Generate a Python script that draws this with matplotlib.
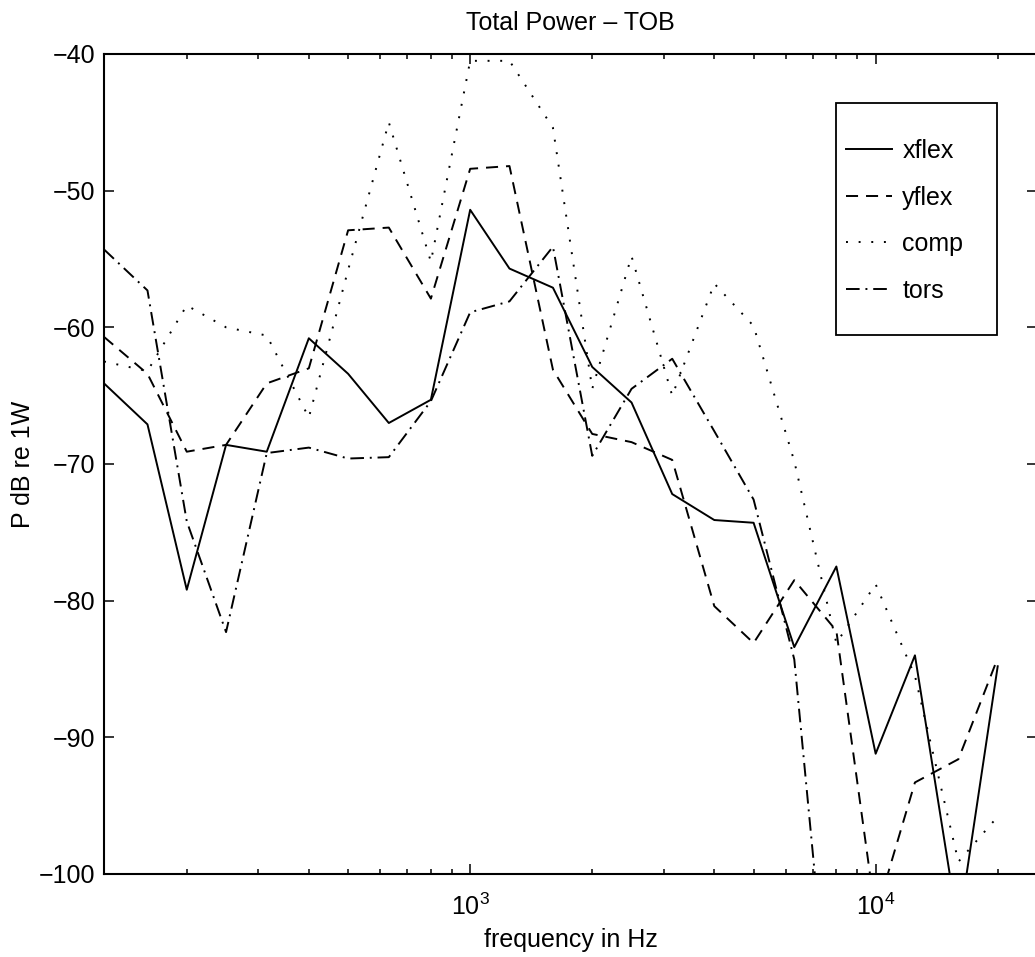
import numpy as np
import matplotlib
matplotlib.use("Agg")
import matplotlib.pyplot as plt
from matplotlib.patches import Rectangle
from matplotlib.ticker import LogLocator, FixedLocator

plt.rcParams["font.family"] = ["Liberation Sans", "DejaVu Sans"]
plt.rcParams["mathtext.default"] = "regular"

# third-octave band centre frequencies (Hz)
freq = [125, 160, 200, 250, 315, 400, 500, 630, 800, 1000, 1250, 1600,
        2000, 2500, 3150, 4000, 5000, 6300, 8000, 10000, 12500, 16000, 20000]

# band power, dB re 1 W
xflex = [-64.1, -67.1, -79.2, -68.6, -69.1, -60.8, -63.4, -67.0, -65.3, -51.4,
         -55.7, -57.1, -62.9, -65.5, -72.2, -74.1, -74.3, -83.4, -77.5, -91.2,
         -84.0, -104.0, -84.8]
yflex = [-60.7, -63.4, -69.1, -68.6, -64.1, -63.0, -52.9, -52.7, -57.9, -48.4,
         -48.2, -63.1, -67.8, -68.4, -69.7, -80.4, -83.1, -78.5, -82.2, -103.0,
         -93.3, -91.6, -84.2]
comp = [-62.5, -63.2, -58.4, -60.0, -60.6, -66.6, -55.8, -45.0, -55.2, -40.5,
        -40.5, -45.4, -64.5, -54.8, -65.0, -56.8, -59.9, -69.8, -83.1, -78.8,
        -85.5, -99.1, -95.8]
tors = [-54.3, -57.3, -74.2, -82.3, -69.2, -68.8, -69.6, -69.5, -65.4, -58.9,
        -58.1, -54.1, -69.4, -64.5, -62.3, -67.6, -72.6, -84.3, -116.5, np.nan,
        np.nan, np.nan, np.nan]

W, H = 1035, 957
fig = plt.figure(figsize=(W / 100, H / 100), dpi=100)
# axes box in pixels: left 104, right 1037, top 54, bottom 874
ax = fig.add_axes([104 / W, (H - 874) / H, (1037 - 104) / W, (874 - 54) / H])

lw = 1.4
ax.plot(freq, xflex, color="black", lw=lw, linestyle="-", label="xflex")
ax.plot(freq, yflex, color="black", lw=lw, linestyle=(0, (6.2, 4.1)), label="yflex")
ax.plot(freq, comp, color="black", lw=lw, linestyle=(0, (1, 5.5)), label="comp")
ax.plot(freq, tors, color="black", lw=lw, linestyle=(0, (7, 3, 1, 3)), label="tors")

ax.set_xscale("log")
ax.set_xlim(125, 25000)
ax.set_ylim(-100, -40)
ax.yaxis.set_major_locator(FixedLocator([-100, -90, -80, -70, -60, -50, -40]))
ax.xaxis.set_major_locator(LogLocator(base=10))
ax.xaxis.set_minor_locator(LogLocator(base=10, subs=np.arange(2, 10)))

fs = 18
ax.tick_params(which="both", direction="in", top=True, right=True,
               labelsize=fs, width=1.1)
ax.tick_params(axis="y", which="major", length=7, pad=6)
ax.tick_params(axis="x", which="major", length=7, pad=14)
ax.tick_params(axis="x", which="minor", length=3.5)
for s in ax.spines.values():
    s.set_linewidth(1.5)

ax.set_title("Total Power \u2013 TOB", fontsize=fs, pad=17)
ax.set_xlabel("frequency in Hz", fontsize=fs, labelpad=6)
ax.set_ylabel("P dB re 1W", fontsize=fs, labelpad=3)

# legend entries, with a separate square frame around them
leg = ax.legend(loc="upper left", bbox_to_anchor=(846 / W, 1 - 139 / H),
                bbox_transform=fig.transFigure, frameon=False, fontsize=fs,
                borderpad=0, borderaxespad=0, handlelength=1.85,
                handletextpad=0.4, labelspacing=0.9)
fig.add_artist(Rectangle((836 / W, 1 - 335 / H), (997 - 836) / W, (335 - 103) / H,
                         transform=fig.transFigure, fill=False,
                         edgecolor="black", lw=1.3, zorder=5))

fig.savefig("out.png", dpi=100)
